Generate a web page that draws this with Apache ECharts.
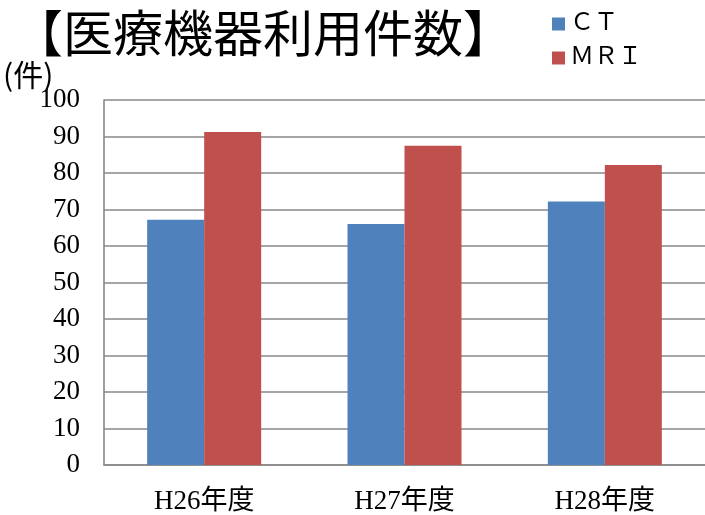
<!DOCTYPE html>
<html><head><meta charset="utf-8">
<script src="https://cdn.jsdelivr.net/npm/echarts@6/dist/echarts.min.js"></script>
<style>html,body{margin:0;padding:0;background:#fff}#c{width:705px;height:515px}</style>
</head><body><div id="c"></div>
<script>
const categories = ['H26年度', 'H27年度', 'H28年度'];
const ctValues = [67.2, 66.0, 72.2];
const mriValues = [91.2, 87.5, 82.2];
const seriesNames = ['ＣＴ', 'ＭＲＩ'];
const yTicks = { min: 0, max: 100, interval: 10 };

const chart = echarts.init(document.getElementById('c'), null, { renderer: 'canvas' });
const serif = "'Liberation Serif', 'Noto Sans CJK JP', serif";
chart.setOption({
  animation: false,
  backgroundColor: '#fff',
  title: {
    text: '【医療機器利用件数】',
    left: 8, top: 3,
    textStyle: { fontFamily: "'Noto Sans CJK JP'", fontSize: 50, fontWeight: 'normal', color: '#000' }
  },
  legend: {
    orient: 'vertical', left: 547, top: 7,
    itemWidth: 13, itemHeight: 13, itemGap: 10,
    icon: 'rect',
    textStyle: { fontFamily: serif, fontSize: 24, color: '#000' },
    data: seriesNames
  },
  graphic: [{
    type: 'text', left: 3, top: 60,
    style: { text: '(件)', font: "30px 'Noto Sans CJK JP'", fill: '#000' }
  }],
  grid: { left: 104, width: 603, top: 100, bottom: 49 },
  xAxis: {
    type: 'category', data: categories,
    axisLine: { lineStyle: { color: '#888888', width: 1.6 } },
    axisTick: { show: false },
    axisLabel: { margin: 23, fontFamily: serif, fontSize: 27, color: '#000' }
  },
  yAxis: {
    type: 'value', min: yTicks.min, max: yTicks.max, interval: yTicks.interval,
    axisLine: { show: true, lineStyle: { color: '#888888', width: 1.6 } },
    axisTick: { show: false },
    splitLine: { lineStyle: { color: '#888888', width: 1.6 } },
    axisLabel: { margin: 24, fontFamily: serif, fontSize: 27, color: '#000' }
  },
  series: [
    { name: seriesNames[0], type: 'bar', data: ctValues, barWidth: 57, barGap: '0%', itemStyle: { color: '#4F81BD' } },
    { name: seriesNames[1], type: 'bar', data: mriValues, barWidth: 57, barGap: '0%', itemStyle: { color: '#C0504D' } }
  ]
});
</script></body></html>
